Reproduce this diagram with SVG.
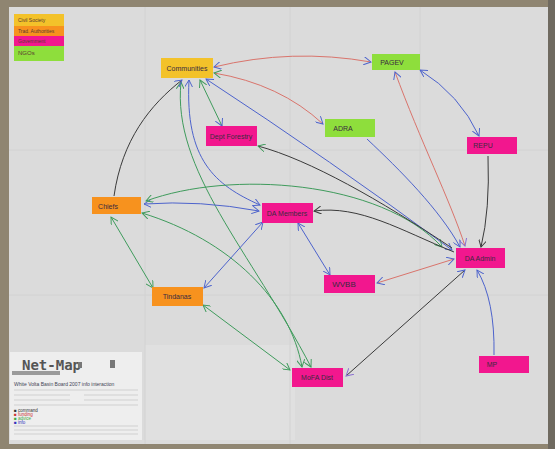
<svg xmlns="http://www.w3.org/2000/svg" width="555" height="449" viewBox="0 0 555 449">
<style>
.note text{font-family:"Liberation Sans",Arial,sans-serif;font-size:7px;fill:#3a2a40;text-anchor:middle}
.yel{fill:#f3c22a}.org{fill:#f7921e}.pnk{fill:#f2178e}.grn{fill:#8ede3c}
.e{fill:none;stroke-width:1}
.b{stroke:#4d63cc}.r{stroke:#d9746c}.g{stroke:#3f9b5c}.k{stroke:#3a3a3a}
.leg text{font-family:"Liberation Sans",Arial,sans-serif;font-size:5px;fill:#5a3a30}
.form text{font-family:"Liberation Sans",Arial,sans-serif;font-size:4.5px;fill:#555}
</style>
<defs>
<marker id="ab" viewBox="0 0 10 10" refX="9" refY="5" markerWidth="8" markerHeight="8" orient="auto-start-reverse" markerUnits="userSpaceOnUse"><path d="M0,0 L9,5 L0,10" fill="none" stroke="#4d63cc" stroke-width="1.2"/></marker>
<marker id="ar" viewBox="0 0 10 10" refX="9" refY="5" markerWidth="8" markerHeight="8" orient="auto-start-reverse" markerUnits="userSpaceOnUse"><path d="M0,0 L9,5 L0,10" fill="none" stroke="#8a6fd0" stroke-width="1.2"/></marker>
<marker id="ag" viewBox="0 0 10 10" refX="9" refY="5" markerWidth="8" markerHeight="8" orient="auto-start-reverse" markerUnits="userSpaceOnUse"><path d="M0,0 L9,5 L0,10" fill="none" stroke="#3f9b5c" stroke-width="1.2"/></marker>
<marker id="ak" viewBox="0 0 10 10" refX="9" refY="5" markerWidth="8" markerHeight="8" orient="auto-start-reverse" markerUnits="userSpaceOnUse"><path d="M0,0 L9,5 L0,10" fill="none" stroke="#3a3a3a" stroke-width="1.2"/></marker>
</defs>
<!-- background floor and paper -->
<rect x="0" y="0" width="555" height="449" fill="#8f8571"/>
<rect x="9" y="7" width="539" height="437" fill="#dbdbdb"/>
<rect x="145" y="345" width="150" height="95" fill="#e0e0e0"/>
<rect x="548" y="0" width="7" height="449" fill="#6f6a60"/>
<g stroke="#d2d2d2" stroke-width="1">
<line x1="145" y1="7" x2="145" y2="444"/><line x1="290" y1="7" x2="290" y2="444"/><line x1="420" y1="7" x2="420" y2="444"/>
<line x1="9" y1="150" x2="548" y2="150"/><line x1="9" y1="295" x2="548" y2="295"/>
</g>

<g id="connectors">
<path class="e r" d="M214,67 Q292,48 371,62" marker-start="url(#ab)" marker-end="url(#ab)"/>
<path class="e r" d="M214,73 Q280,84 323,124" marker-start="url(#ag)" marker-end="url(#ab)"/>
<path class="e g" d="M200,80 L222,126" marker-start="url(#ag)" marker-end="url(#ab)"/>
<path class="e b" d="M206,79 Q330,160 452,250" marker-start="url(#ab)" marker-end="url(#ab)"/>
<path class="e b" d="M189,80 C185,160 215,185 260,205" marker-start="url(#ab)" marker-end="url(#ab)"/>
<path class="e g" d="M181,82 C172,170 250,250 311,367" marker-start="url(#ag)" marker-end="url(#ag)"/>
<path class="e k" d="M114,196 C122,140 150,105 182,80" marker-end="url(#ab)"/>
<path class="e b" d="M144,204 Q200,200 259,211" marker-start="url(#ab)" marker-end="url(#ab)"/>
<path class="e g" d="M111,217 L153,288" marker-start="url(#ag)" marker-end="url(#ag)"/>
<path class="e g" d="M146,201 C230,170 380,180 442,247" marker-start="url(#ag)" marker-end="url(#ag)"/>
<path class="e g" d="M142,213 C230,240 290,300 302,367" marker-start="url(#ag)" marker-end="url(#ag)"/>
<path class="e b" d="M204,288 L263,222" marker-start="url(#ab)" marker-end="url(#ab)"/>
<path class="e g" d="M203,305 L290,370" marker-start="url(#ag)" marker-end="url(#ag)"/>
<path class="e b" d="M298,223 L330,275" marker-start="url(#ab)" marker-end="url(#ab)"/>
<path class="e k" d="M454,252 C400,230 360,205 314,211" marker-end="url(#ak)"/>
<path class="e k" d="M452,248 C380,200 310,160 258,146" marker-end="url(#ag)"/>
<path class="e b" d="M367,139 C400,170 440,210 460,247" marker-end="url(#ab)"/>
<path class="e r" d="M395,72 C420,140 450,200 465,246" marker-start="url(#ab)" marker-end="url(#ar)"/>
<path class="e b" d="M420,70 Q460,95 479,136" marker-start="url(#ab)" marker-end="url(#ab)"/>
<path class="e k" d="M488,156 Q490,210 481,247" marker-end="url(#ak)"/>
<path class="e r" d="M377,283 L454,259" marker-start="url(#ab)" marker-end="url(#ab)"/>
<path class="e k" d="M346,376 L465,270" marker-start="url(#ar)" marker-end="url(#ab)"/>
<path class="e b" d="M494,355 Q495,300 477,270" marker-end="url(#ab)"/>
</g>

<g id="legend" class="leg">
<rect x="14" y="14" width="50" height="13" class="yel"/>
<rect x="14" y="26" width="50" height="10" class="org"/>
<rect x="14" y="36" width="50" height="10" class="pnk"/>
<rect x="14" y="46" width="50" height="15" class="grn"/>
<text x="18" y="22">Civil Society</text>
<text x="18" y="33">Trad. Authorities</text>
<text x="18" y="43">Government</text>
<text x="18" y="55" style="font-size:6px">NGOs</text>
</g>

<g id="communities" class="note"><rect x="161" y="58" width="52" height="20" class="yel"/><text x="187" y="71">Communities</text></g>
<g id="pagev" class="note"><rect x="372" y="54" width="48" height="16" class="grn"/><text x="392" y="65">PAGEV</text></g>
<g id="adra" class="note"><rect x="325" y="119" width="50" height="18" class="grn"/><text x="343" y="131">ADRA</text></g>
<g id="deptforestry" class="note"><rect x="206" y="126" width="51" height="20" class="pnk"/><text x="231" y="139">Dept Forestry</text></g>
<g id="repu" class="note"><rect x="467" y="137" width="50" height="17" class="pnk"/><text x="483" y="148">REPU</text></g>
<g id="chiefs" class="note"><rect x="92" y="197" width="49" height="17" class="org"/><text x="108" y="209">Chiefs</text></g>
<g id="damembers" class="note"><rect x="262" y="203" width="51" height="20" class="pnk"/><text x="287" y="216">DA Members</text></g>
<g id="daadmin" class="note"><rect x="456" y="248" width="49" height="20" class="pnk"/><text x="480" y="261">DA Admin</text></g>
<g id="wvbb" class="note"><rect x="324" y="275" width="51" height="18" class="pnk"/><text x="344" y="287" style="font-size:8px">WVBB</text></g>
<g id="tindanas" class="note"><rect x="152" y="287" width="51" height="19" class="org"/><text x="177" y="299">Tindanas</text></g>
<g id="mofa" class="note"><rect x="292" y="368" width="51" height="19" class="pnk"/><text x="317" y="380">MoFA Dist</text></g>
<g id="mp" class="note"><rect x="479" y="356" width="50" height="17" class="pnk"/><text x="492" y="367">MP</text></g>

<g id="form" class="form">
<rect x="10" y="352" width="132" height="88" fill="#eeeeee"/>
<rect x="12" y="371" width="48" height="4" fill="#9a9a9a"/>
<text x="22" y="370" style="font-family:'DejaVu Sans Mono',monospace;font-size:14px;font-weight:bold;fill:#555">Net-Map</text>
<rect x="78" y="362" width="4" height="6" fill="#777"/><rect x="110" y="360" width="5" height="8" fill="#777"/>
<text x="14" y="386" style="font-size:5px;fill:#445">White Volta Basin Board 2007 info interaction</text>
<g stroke="#bdbdbd" stroke-width="0.6">
<line x1="14" y1="390" x2="138" y2="390"/><line x1="14" y1="395" x2="70" y2="395"/><line x1="84" y1="395" x2="138" y2="395"/>
<line x1="14" y1="400" x2="70" y2="400"/><line x1="84" y1="400" x2="138" y2="400"/>
<line x1="14" y1="405" x2="138" y2="405"/><line x1="14" y1="426" x2="138" y2="426"/><line x1="14" y1="430" x2="138" y2="430"/><line x1="14" y1="434" x2="138" y2="434"/>
</g>
<text x="14" y="412" style="fill:#333">■ command</text>
<text x="14" y="416" style="fill:#c33">■ funding</text>
<text x="14" y="420" style="fill:#4a4">■ advice</text>
<text x="14" y="424" style="fill:#33b">■ info</text>
</g>
</svg>
